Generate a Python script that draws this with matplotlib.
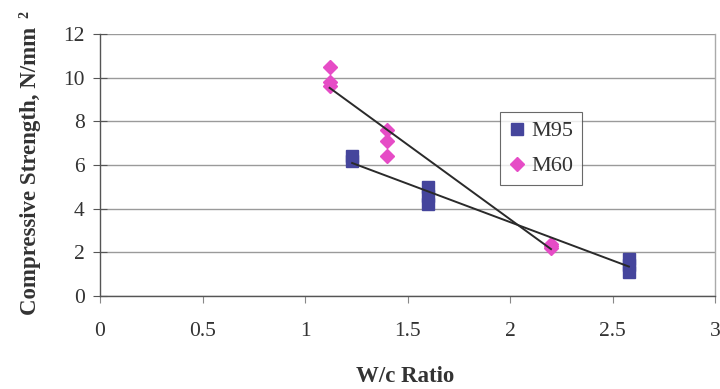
import numpy as np
import matplotlib
matplotlib.use("Agg")
import matplotlib.pyplot as plt

# Data
m95_x = [1.23, 1.23, 1.6, 1.6, 1.6, 2.58, 2.58, 2.58]
m95_y = [6.4, 6.2, 5.0, 4.6, 4.2, 1.7, 1.4, 1.1]
m60_x = [1.12, 1.12, 1.12, 1.4, 1.4, 1.4, 2.2, 2.2, 2.2]
m60_y = [10.5, 9.8, 9.6, 7.6, 7.1, 6.4, 2.4, 2.3, 2.2]
x_ticks = [0, 0.5, 1, 1.5, 2, 2.5, 3]
x_ticklabels = ["0", "0.5", "1", "1.5", "2", "2.5", "3"]
y_ticks = [0, 2, 4, 6, 8, 10, 12]

plt.rcParams['font.family'] = ['Liberation Serif', 'DejaVu Serif']

fig = plt.figure(figsize=(7.2, 3.89), dpi=100)
ax = fig.add_axes([100/720, 1-296/389, (715-100)/720, (296-34)/389])

c95 = '#45459c'
c60 = '#e64cc6'
txt = '#333333'

ax.plot(m95_x, m95_y, linestyle='none', marker='s', markersize=8.5,
        color=c95, label='M95', zorder=3)
ax.plot(m60_x, m60_y, linestyle='none', marker='D', markersize=7.0,
        color=c60, label='M60', zorder=3)

for xs, ys in ((m95_x, m95_y), (m60_x, m60_y)):
    k, b = np.polyfit(xs, ys, 1)
    xx = np.array([min(xs), max(xs)])
    ax.plot(xx, k*xx + b, color='#2a2a2a', lw=1.4, zorder=4)

ax.set_xlim(0, 3)
ax.set_ylim(0, 12)
ax.set_xticks(x_ticks)
ax.set_xticklabels(x_ticklabels)
ax.set_yticks(y_ticks)
ax.yaxis.grid(True, color='#9a9a9a', lw=1.0)
ax.set_axisbelow(True)
ax.spines['top'].set_visible(False)
ax.spines['right'].set_color('#aaaaaa')
ax.spines['right'].set_linewidth(1.0)
for s in ('left', 'bottom'):
    ax.spines[s].set_color('#555555')
    ax.spines[s].set_linewidth(1.0)
ax.tick_params(axis='x', direction='out', length=5, pad=14, labelsize=15.5,
               color='#888888', labelcolor=txt)
ax.tick_params(axis='y', direction='inout', length=10, pad=6, labelsize=15.5,
               color='#555555', labelcolor=txt)

fig.text(405/720, 1-377/389, 'W/c Ratio', ha='center', va='center',
         fontsize=16.5, fontweight='bold', color=txt)
fig.text(31/720, 1-171/389, 'Compressive Strength, N/mm', ha='center',
         va='center', rotation=90, fontsize=16.5, fontweight='bold', color=txt)
fig.text(25/720, 1-15/389, '2', ha='center', va='center', rotation=90,
         fontsize=10, fontweight='bold', color=txt)

leg = ax.legend(loc='upper left', bbox_to_anchor=((500-100)/615, (296-112)/262),
                frameon=True, fancybox=False, fontsize=16, labelspacing=0.65,
                handlelength=0.7, handletextpad=0.3, borderpad=0.4,
                borderaxespad=0)
leg.get_frame().set_edgecolor('#444444')
leg.get_frame().set_linewidth(0.8)
for t in leg.get_texts():
    t.set_color(txt)

fig.savefig('out.png', dpi=100)
